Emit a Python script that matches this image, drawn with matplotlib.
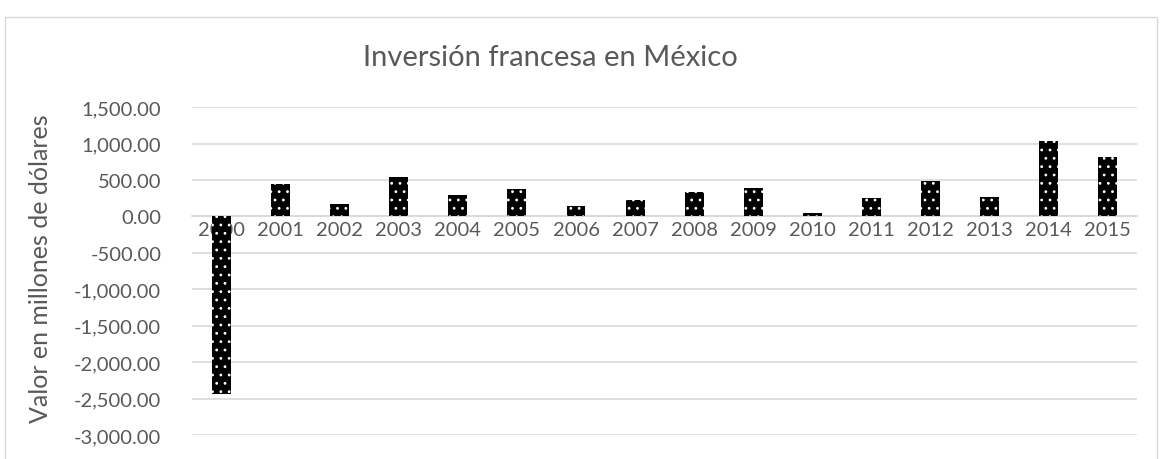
import matplotlib.pyplot as plt
from matplotlib.patches import Rectangle
from matplotlib.ticker import FuncFormatter

years = ["2000", "2001", "2002", "2003", "2004", "2005", "2006", "2007",
         "2008", "2009", "2010", "2011", "2012", "2013", "2014", "2015"]
values = [-2440, 450, 164, 538, 297, 380, 142, 225,
          329, 389, 51, 256, 485, 266, 1033, 822]

plt.rcParams['font.family'] = ['Lato', 'DejaVu Sans']
plt.rcParams['hatch.linewidth'] = 0.8
grey = '#595959'

fig = plt.figure(figsize=(11.63, 4.6), dpi=100)
ax = fig.add_axes([0.165, 0.052, 0.813, 0.713])

x = range(len(years))
ax.bar(x, values, width=0.32, color='black', edgecolor='white',
       linewidth=0, hatch='..', zorder=3)

ax.set_xlim(-0.5, len(years) - 0.5)
ax.set_ylim(-3000, 1500)
ax.set_yticks(range(-3000, 1501, 500))
ax.yaxis.set_major_formatter(FuncFormatter(lambda v, p: f"{v:,.2f}"))
ax.set_xticks(list(x))
ax.set_xticklabels(years)
ax.grid(axis='y', color='#d9d9d9', linewidth=1.2, zorder=0)

for s in ['top', 'right', 'left']:
    ax.spines[s].set_visible(False)
ax.spines['bottom'].set_position(('data', 0))
ax.spines['bottom'].set_color('#d9d9d9')
ax.spines['bottom'].set_linewidth(1.2)
ax.tick_params(axis='both', length=0, labelsize=14.5, colors=grey)
ax.tick_params(axis='x', pad=3)
ax.tick_params(axis='y', pad=22)

ax.set_ylabel("Valor en millones de dólares", fontsize=18, color=grey)
ax.yaxis.set_label_coords(-0.148, 0.51)

fig.text(0.473, 0.875, "Inversión francesa en México", fontsize=21,
         color=grey, ha='center', va='center')

fig.patches.append(Rectangle((5 / 1163, -0.05), 1152 / 1163, 1.03 - 9 / 460,
                             transform=fig.transFigure, fill=False,
                             edgecolor='#d9d9d9', linewidth=1))

fig.savefig('out.png', dpi=100)
